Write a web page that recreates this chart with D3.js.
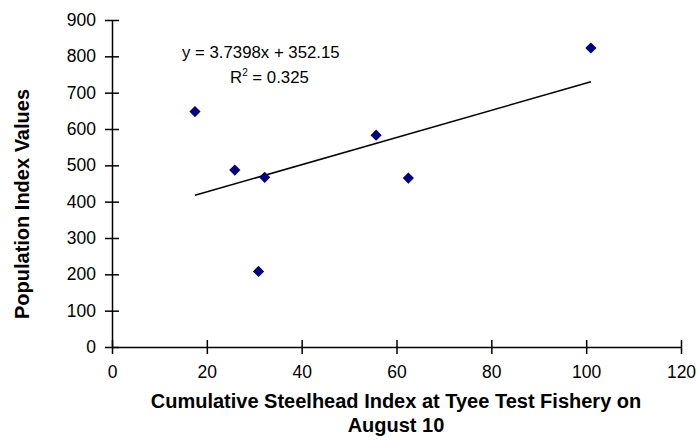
<!DOCTYPE html>
<html><head><meta charset="utf-8">
<script src="https://cdn.jsdelivr.net/npm/d3@7"></script>
<style>body{margin:0;background:#fff;font-family:Arial,"Liberation Sans",sans-serif}</style>
</head><body><div id="chart"></div>
<script>
// Values
var xValues = [17.5, 25.9, 32.2, 30.9, 55.7, 62.5, 101];
var yValues = [648, 487, 467, 208, 583, 465, 823];
var xTicks = [0, 20, 40, 60, 80, 100, 120];
var yTicks = [0, 100, 200, 300, 400, 500, 600, 700, 800, 900];
var slope = 3.7398, intercept = 352.15;

var svgWidth = 698, svgHeight = 441;
var margin = {top: 20, right: 17, bottom: 94, left: 112};
var width = svgWidth - margin.left - margin.right;
var height = svgHeight - margin.top - margin.bottom;

var svg = d3.select("#chart").append("svg")
  .attr("width", svgWidth).attr("height", svgHeight);
var g = svg.append("g").attr("transform", `translate(${margin.left},${margin.top})`);

var x = d3.scaleLinear().domain([0, 120]).range([0, width]);
var y = d3.scaleLinear().domain([0, 900]).range([height, 0]);

var xAxis = g.append("g").attr("transform", `translate(0,${height})`)
  .call(d3.axisBottom(x).tickValues(xTicks).tickSize(7).tickPadding(12).tickSizeOuter(0));
var yAxis = g.append("g")
  .call(d3.axisLeft(y).tickValues(yTicks).tickSize(7).tickPadding(9).tickSizeOuter(0));
// ticks cross the axis line
xAxis.selectAll(".tick line").attr("y1", -7);
yAxis.selectAll(".tick line").attr("x1", 7);
[xAxis, yAxis].forEach(function(a) {
  a.selectAll("path,line").attr("stroke", "#000").attr("stroke-width", 1.5);
  a.selectAll("text").attr("font-size", "17.5px").attr("fill", "#000")
    .attr("font-family", "Arial, Liberation Sans, sans-serif");
});

// Trend line
var x0 = d3.min(xValues), x1 = d3.max(xValues);
g.append("line")
  .attr("x1", x(x0)).attr("y1", y(slope * x0 + intercept))
  .attr("x2", x(x1)).attr("y2", y(slope * x1 + intercept))
  .attr("stroke", "#000").attr("stroke-width", 1.5);

// Points
g.selectAll(".pt").data(xValues).enter().append("path")
  .attr("d", d3.symbol().type(d3.symbolDiamond2).size(80))
  .attr("transform", (d, i) => `translate(${x(d)},${y(yValues[i])})`)
  .attr("fill", "#000080");

// Equation
g.append("text").attr("x", 70).attr("y", 38).attr("font-size", "16.8px")
  .text("y = 3.7398x + 352.15");
var r = g.append("text").attr("x", 118).attr("y", 63).attr("font-size", "16.8px");
r.append("tspan").text("R");
r.append("tspan").attr("font-size", "10px").attr("dy", "-7").text("2");
r.append("tspan").attr("dy", "7").text(" = 0.325");

// Axis titles
svg.append("text").attr("x", 396).attr("y", 408).attr("text-anchor", "middle")
  .attr("font-size", "20px").attr("font-weight", "bold")
  .text("Cumulative Steelhead Index at Tyee Test Fishery on");
svg.append("text").attr("x", 396).attr("y", 432).attr("text-anchor", "middle")
  .attr("font-size", "20px").attr("font-weight", "bold").text("August 10");
svg.append("text").attr("transform", `translate(29,204) rotate(-90)`)
  .attr("text-anchor", "middle").attr("font-size", "20px").attr("font-weight", "bold")
  .text("Population Index Values");
</script></body></html>
